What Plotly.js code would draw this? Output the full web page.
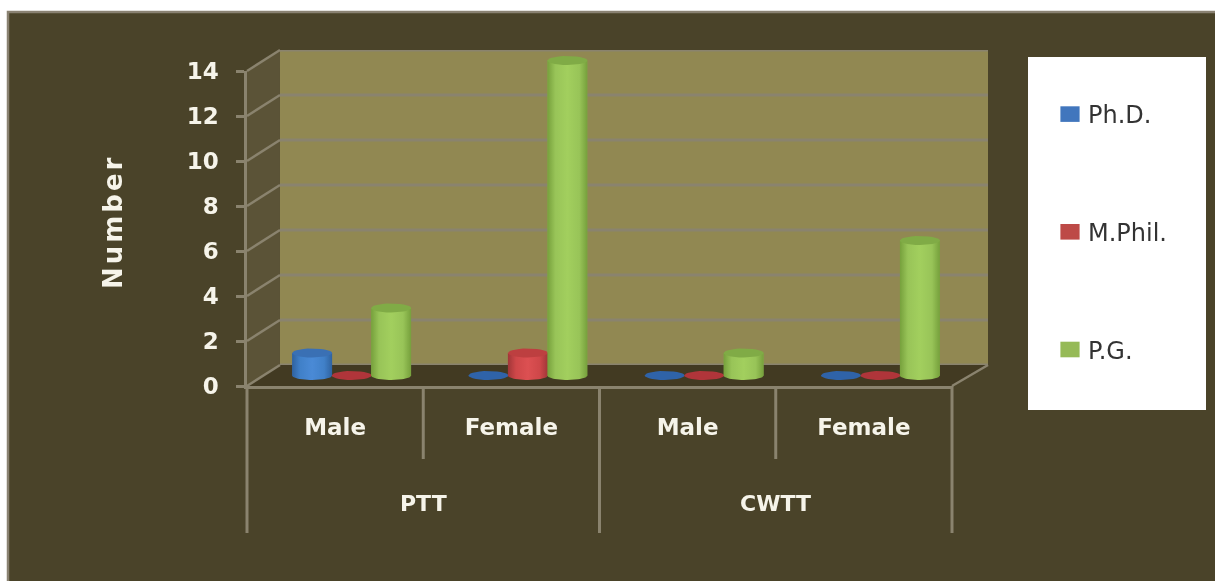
<!DOCTYPE html>
<html>
<head>
<meta charset="utf-8">
<script src="https://cdn.plot.ly/plotly-3.0.1.min.js"></script>
<style>
html,body{margin:0;padding:0;background:#fff;overflow:hidden}
#chart{width:1215px;height:581px;filter:blur(0.5px)}
.annotation[data-index="2"] text{letter-spacing:3px}
.legendpoints path{transform:translate(22px,0) scale(1.6,1.3)}
</style>
</head>
<body>
<div id="chart"></div>
<script>
// ---- data ----
const groups = ['PTT', 'CWTT'];
const subCategories = ['Male', 'Female', 'Male', 'Female'];
const categoryIndex = [0, 1, 2, 3];
const yTicks = [0, 2, 4, 6, 8, 10, 12, 14];
const seriesNames = ['Ph.D.', 'M.Phil.', 'P.G.'];
const phd = [1, 0, 0, 0];
const mphil = [0, 1, 0, 0];
const pg = [3, 14, 1, 6];
const seriesValues = [phd, mphil, pg];

// ---- styling ----
const W = 1215, H = 581;
const FONT = '"DejaVu Sans", sans-serif';
const TXT = '#f6f4ea', GRID = '#8a836e', PANEL = '#4a4329';
const legendColor = ['#4176bd', '#bd4a47', '#96ba57'];
const flatColor = ['#2f63a8', '#b0353a', '#7fa844'];
const capColor = ['#3a70b4', '#bd3f40', '#80ab46'];
const bodyScale = [
  [[0, '#2f629f'], [0.2, '#4080c8'], [0.5, '#4a8ad6'], [0.8, '#4080c8'], [1, '#2f629f']],
  [[0, '#a03638'], [0.2, '#ce4749'], [0.5, '#dc5052'], [0.8, '#ce4749'], [1, '#a03638']],
  [[0, '#76a03c'], [0.2, '#98c458'], [0.5, '#a2cf5e'], [0.8, '#98c458'], [1, '#76a03c']]
];

// pixel helpers for decoration and domains
const px = x => x / W, py = y => 1 - y / H;
const frontL = 247, frontR = 952, front0 = 386, unit = 22.5;
const wallL = 280, wallR = 987, wall0 = 365;
const midDx = 16.5, midDy = 10.5;
const catPx = (frontR - frontL) / 4;
const spacing = 39.5 / catPx, rx = 20 / catPx, ry = 4.5 / unit;

const traces = [];
seriesNames.forEach((name, s) => {
  traces.push({
    type: 'bar', name, x: categoryIndex, y: seriesValues[s], xaxis: 'x2', yaxis: 'y2',
    marker: {color: legendColor[s]}, legendgroup: name, hoverinfo: 'name+y'
  });
});
function arc(xc, yc, from, to) {
  const n = 28, xs = [], ys = [];
  for (let i = 0; i <= n; i++) {
    const t = from + (to - from) * i / n;
    xs.push(xc + rx * Math.cos(t));
    ys.push(yc + ry * Math.sin(t));
  }
  return [xs, ys];
}
const polyBase = {type: 'scatter', mode: 'lines', fill: 'toself', line: {width: 0}, xaxis: 'x2', yaxis: 'y2', showlegend: false, hoverinfo: 'skip'};
seriesValues.forEach((vals, s) => {
  vals.forEach((v, c) => {
    const xc = categoryIndex[c] + (s - 1) * spacing;
    if (v > 0) {
      const [bx, by] = arc(xc, 0, Math.PI, 2 * Math.PI);
      traces.push(Object.assign({}, polyBase, {
        x: [xc - rx, xc + rx, xc + rx].concat(bx.slice().reverse(), [xc - rx]),
        y: [v, v, 0].concat(by.slice().reverse(), [v]),
        fillcolor: legendColor[s], legendgroup: seriesNames[s],
        fillgradient: {type: 'horizontal', colorscale: bodyScale[s]}
      }));
    }
    const [ex, ey] = arc(xc, v, 0, 2 * Math.PI);
    traces.push(Object.assign({}, polyBase, {
      x: ex, y: ey, fillcolor: v > 0 ? capColor[s] : flatColor[s], legendgroup: seriesNames[s]
    }));
  });
});

const frontY = v => front0 - v * unit;
const line = (x0, y0, x1, y1, w) => ({type: 'line', xref: 'paper', yref: 'paper', x0: px(x0), y0: py(y0), x1: px(x1), y1: py(y1), line: {color: GRID, width: w || 2}, layer: 'below'});
const poly = (pts, fill) => ({type: 'path', xref: 'paper', yref: 'paper', layer: 'below', fillcolor: fill, line: {width: 0},
  path: 'M' + pts.map(p => px(p[0]).toFixed(5) + ',' + py(p[1]).toFixed(5)).join('L') + 'Z'});

const shapes = [
  {type: 'rect', xref: 'paper', yref: 'paper', x0: px(8), x1: px(1230), y0: py(12), y1: py(600), fillcolor: PANEL, line: {color: '#8a8272', width: 2.5}, layer: 'below'},
  poly([[wallL, wall0 - 315], [wallR + 1, wall0 - 315], [wallR + 1, wall0], [wallL, wall0]], '#918852'),
  poly([[frontL, front0 - 315], [wallL, wall0 - 315], [wallL, wall0], [frontL, front0]], '#5b5337'),
  poly([[frontL, front0], [wallL, wall0], [wallR + 1, wall0], [frontR, front0]], '#423a22'),
  {type: 'rect', xref: 'paper', yref: 'paper', x0: px(1028), x1: px(1206), y0: py(57), y1: py(410), fillcolor: '#ffffff', line: {width: 0}, layer: 'below'}
];
yTicks.forEach(v => shapes.push(line(frontL, frontY(v), wallL, frontY(v) - 21, 2.5)));
// wall gridlines read the values through the wall's own y axis
yTicks.forEach(v => shapes.push({type: 'line', xref: 'paper', yref: 'y', x0: px(wallL), x1: px(wallR + 1), y0: v, y1: v, line: {color: GRID, width: 3}, layer: 'below'}));
shapes.push(line(frontR, front0, wallR + 1, wall0, 2.5));
// category dividers on the front axis
[0.5, 1.5, 2.5].forEach((p, i) => {
  const long = i === 1;
  shapes.push({type: 'line', xref: 'x3', yref: 'paper', x0: p, x1: p, y0: py(front0), y1: py(long ? 533 : 459), line: {color: GRID, width: 3}, layer: 'below'});
});
shapes.push(line(frontL, front0, frontL, 533, 3), line(frontR, front0, frontR, 533, 3));

const hidden = {visible: false, fixedrange: true};
const layout = {
  width: W, height: H, margin: {l: 0, r: 0, t: 0, b: 0, pad: 0},
  paper_bgcolor: '#ffffff', plot_bgcolor: 'rgba(0,0,0,0)',
  font: {family: FONT, color: TXT},
  barmode: 'group', bargap: 1 - 3 * spacing, bargroupgap: 0,
  showlegend: true,
  legend: {
    x: px(1048), xanchor: 'left', y: py(92), yanchor: 'top', bgcolor: 'rgba(0,0,0,0)', borderwidth: 0,
    font: {family: FONT, size: 24, color: '#333333'}, tracegroupgap: 83.5, traceorder: 'grouped', itemclick: false, itemdoubleclick: false
  },
  // back wall
  xaxis: Object.assign({}, hidden, {domain: [px(wallL), px(wallR)], range: [-0.5, 3.5], anchor: 'y'}),
  yaxis: Object.assign({}, hidden, {domain: [py(wall0), py(wall0 - 315)], range: [0, 14], anchor: 'x'}),
  // middle of the depth: the columns stand here
  xaxis2: Object.assign({}, hidden, {domain: [px(frontL + midDx), px(frontR + midDx)], range: [-0.5, 3.5], anchor: 'y2'}),
  yaxis2: Object.assign({}, hidden, {domain: [py(front0 - midDy + unit), py(front0 - midDy - 15 * unit)], range: [-1, 15], anchor: 'x2'}),
  // front plane: tick labels and axis lines
  xaxis3: {domain: [px(frontL), px(frontR)], range: [-0.5, 3.5], anchor: 'y3', tickmode: 'array', tickvals: categoryIndex, ticktext: subCategories,
    ticks: '', ticklabelstandoff: 18, tickfont: {family: FONT, size: 23, color: TXT, weight: 700}, showgrid: false, zeroline: false, showline: true, linecolor: GRID, linewidth: 3, fixedrange: true},
  yaxis3: {domain: [py(front0), py(front0 - 315)], range: [0, 14], anchor: 'x3', tickmode: 'array', tickvals: yTicks, ticks: 'outside', ticklen: 8, tickwidth: 2.5, tickcolor: GRID,
    ticklabelstandoff: 13, tickfont: {family: FONT, size: 23, color: TXT, weight: 700}, showgrid: false, zeroline: false, showline: true, linecolor: GRID, linewidth: 2.5, fixedrange: true},
  annotations: [
    {xref: 'x3', yref: 'paper', x: 0.5, y: py(503), xanchor: 'center', yanchor: 'middle', text: groups[0], showarrow: false, font: {family: FONT, size: 22, color: TXT, weight: 700}},
    {xref: 'x3', yref: 'paper', x: 2.5, y: py(503), xanchor: 'center', yanchor: 'middle', text: groups[1], showarrow: false, font: {family: FONT, size: 22, color: TXT, weight: 700}},
    {xref: 'paper', yref: 'paper', x: px(113), y: py(222), xanchor: 'center', yanchor: 'middle', text: 'Number', textangle: -90, showarrow: false, font: {family: FONT, size: 26, color: TXT, weight: 700}}
  ],
  shapes
};
Plotly.newPlot('chart', traces, layout, {displayModeBar: false});
</script>
</body>
</html>
